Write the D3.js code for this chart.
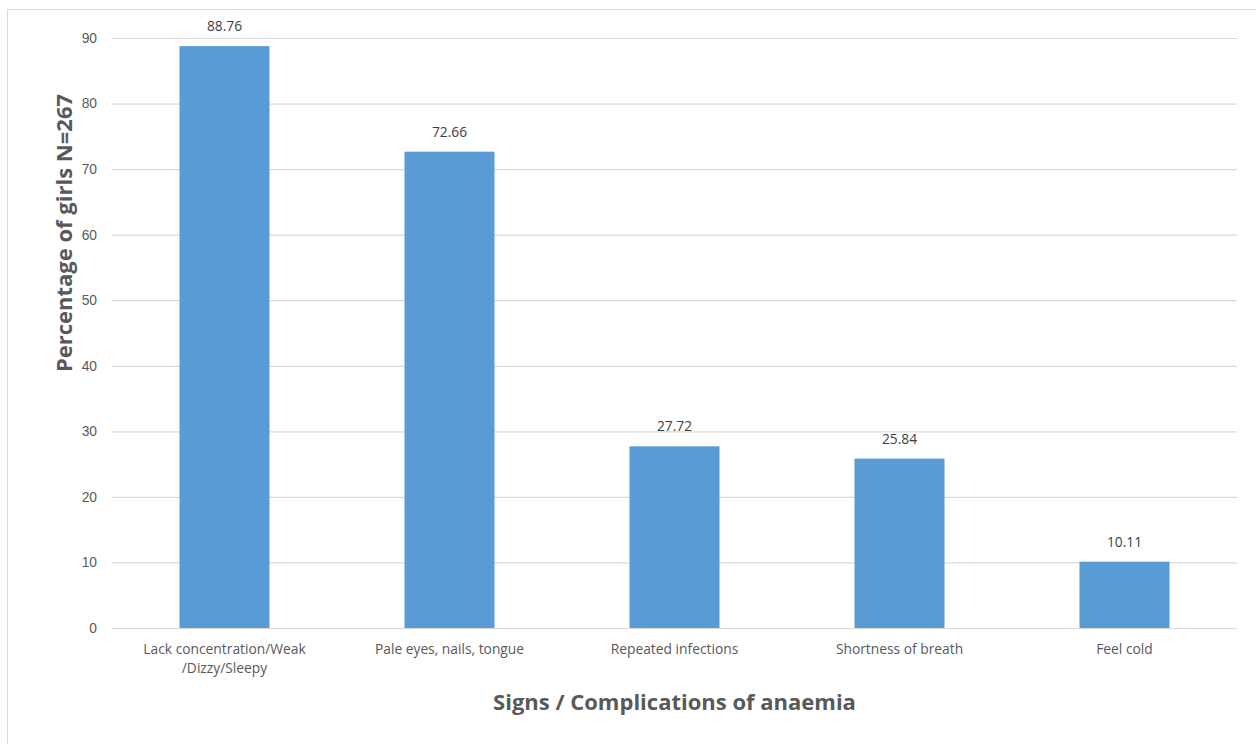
<!DOCTYPE html>
<html>
<head>
<meta charset="utf-8">
<script src="https://cdn.jsdelivr.net/npm/d3@7"></script>
<style>
  html, body { margin: 0; padding: 0; background: #fff; overflow: hidden; }
  svg { display: block; font-family: "Open Sans", "Liberation Sans", sans-serif; }
</style>
</head>
<body>
<svg id="chart" width="1256" height="744"></svg>
<script>
// Signs / complications of anaemia reported by girls (N=267)
const categories = [
  ["Lack concentration/Weak", "/Dizzy/Sleepy"],
  ["Pale eyes, nails, tongue"],
  ["Repeated infections"],
  ["Shortness of breath"],
  ["Feel cold"]
];
const percentages = [88.76, 72.66, 27.72, 25.84, 10.11];
const yTicks = [0, 10, 20, 30, 40, 50, 60, 70, 80, 90];

const yTitle = "Percentage of girls N=267";
const xTitle = "Signs / Complications of anaemia";

const svg = d3.select("#chart");
const plot = { left: 112, right: 1237, top: 38, bottom: 628 };
const textColor = "#595959";
const gridColor = "#d9d9d9";
const barColor = "#5b9bd5";
const labelSize = "13.8px";

// outer chart frame
svg.append("rect")
  .attr("x", 7.5).attr("y", 9.5)
  .attr("width", 1300).attr("height", 800)
  .attr("fill", "none").attr("stroke", gridColor).attr("stroke-width", 1);

const x = d3.scaleBand()
  .domain(d3.range(categories.length))
  .range([plot.left, plot.right])
  .paddingInner(0.6)
  .paddingOuter(0.3);

const y = d3.scaleLinear()
  .domain([0, 90])
  .range([plot.bottom, plot.top]);

// horizontal gridlines and y tick labels
const yAxis = d3.axisLeft(y)
  .tickValues(yTicks)
  .tickSize(-(plot.right - plot.left))
  .tickPadding(15)
  .tickFormat(d3.format("d"));

const gy = svg.append("g")
  .attr("transform", `translate(${plot.left},0)`)
  .call(yAxis);
gy.select(".domain").remove();
gy.selectAll(".tick line").attr("stroke", gridColor).attr("stroke-width", 1.2);
gy.selectAll(".tick text")
  .attr("fill", textColor)
  .style("font-size", labelSize);

// bars
svg.append("g").selectAll("rect")
  .data(percentages)
  .join("rect")
  .attr("x", (d, i) => x(i))
  .attr("y", d => y(d))
  .attr("width", x.bandwidth())
  .attr("height", d => y(0) - y(d))
  .attr("fill", barColor);

// value labels above the bars
svg.append("g").selectAll("text")
  .data(percentages)
  .join("text")
  .attr("x", (d, i) => x(i) + x.bandwidth() / 2)
  .attr("y", d => y(d) - 15)
  .attr("text-anchor", "middle")
  .attr("fill", "#404040")
  .style("font-size", labelSize)
  .text(d => d.toFixed(2));

// category labels
const catG = svg.append("g");
categories.forEach((lines, i) => {
  const cx = x(i) + x.bandwidth() / 2;
  const t = catG.append("text")
    .attr("x", cx)
    .attr("y", 654)
    .attr("text-anchor", "middle")
    .attr("fill", textColor)
    .style("font-size", labelSize);
  lines.forEach((ln, j) => {
    t.append("tspan")
      .attr("x", cx)
      .attr("dy", j === 0 ? 0 : 19)
      .text(ln);
  });
});

// axis titles
svg.append("text")
  .attr("transform", "translate(72,233) rotate(-90)")
  .attr("text-anchor", "middle")
  .attr("fill", textColor)
  .style("font-size", "22px")
  .style("font-weight", "bold")
  .text(yTitle);

svg.append("text")
  .attr("x", (plot.left + plot.right) / 2)
  .attr("y", 710)
  .attr("text-anchor", "middle")
  .attr("fill", textColor)
  .style("font-size", "22px")
  .style("font-weight", "bold")
  .text(xTitle);
</script>
</body>
</html>
